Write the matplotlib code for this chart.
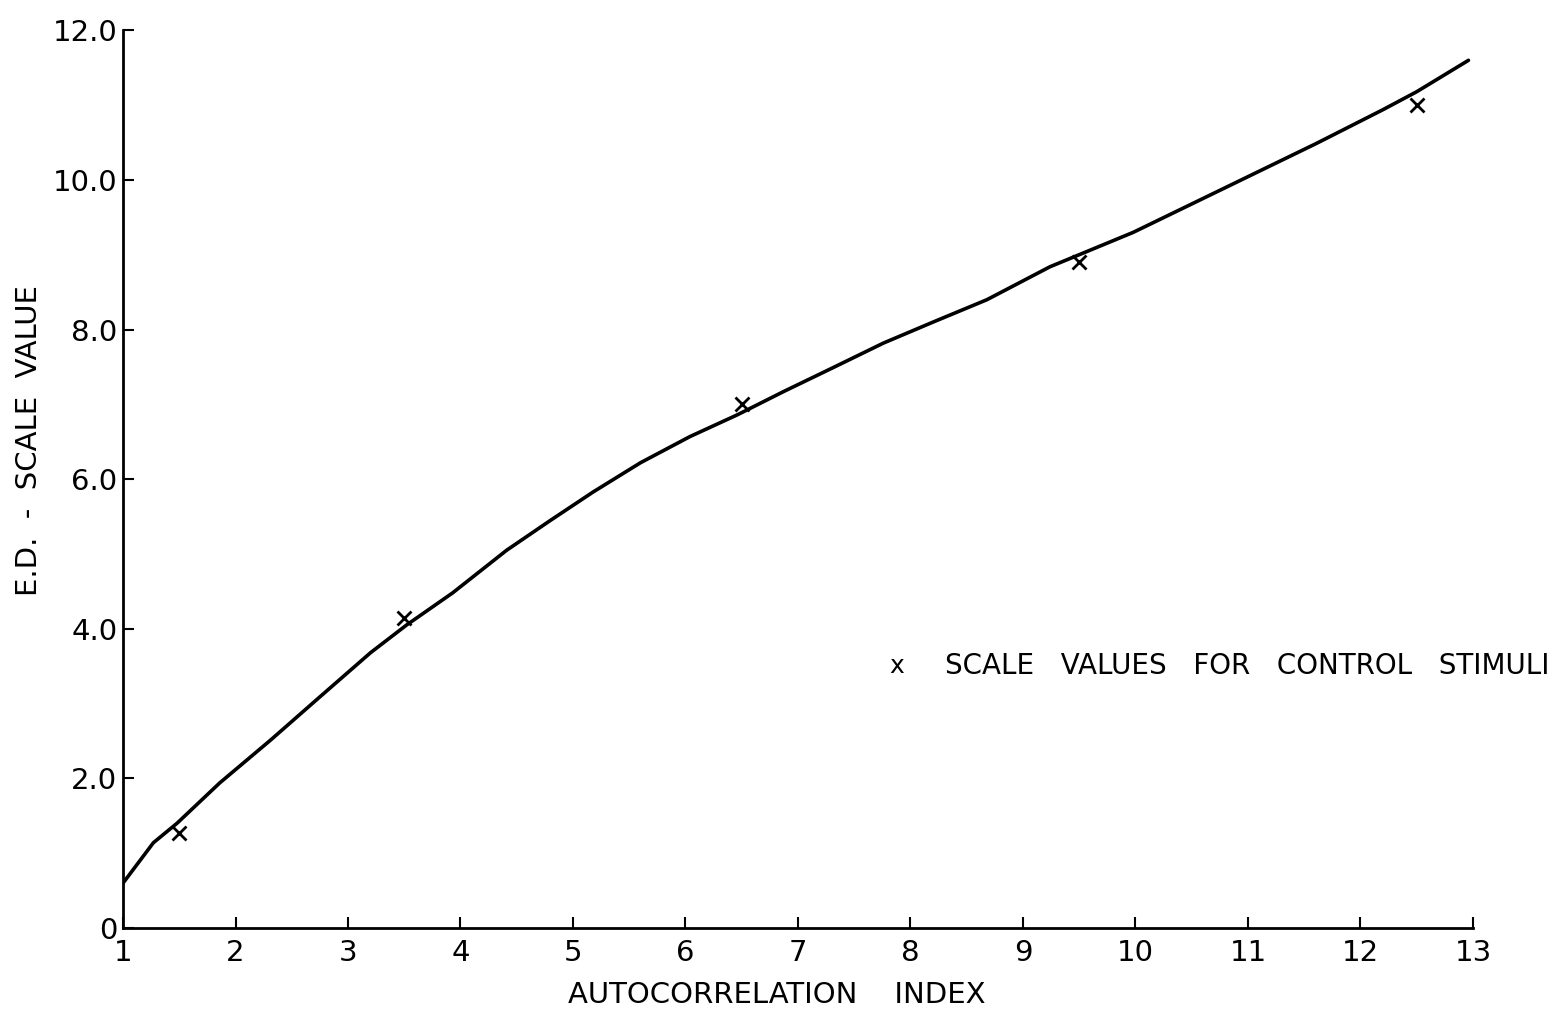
import matplotlib.pyplot as plt
import numpy as np

# curve
curve_x = [1.0, 1.27, 1.48, 1.86, 2.31, 2.75, 3.2, 3.52, 3.93, 4.41, 4.8, 5.18,
           5.6, 6.04, 6.46, 6.87, 7.31, 7.76, 8.2, 8.68, 9.24, 9.53, 9.98, 10.72,
           11.61, 12.2, 12.5, 12.96]
curve_y = [0.6, 1.14, 1.4, 1.94, 2.51, 3.09, 3.68, 4.05, 4.48, 5.05, 5.45, 5.83,
           6.22, 6.57, 6.86, 7.17, 7.49, 7.82, 8.1, 8.4, 8.84, 9.02, 9.3, 9.84,
           10.49, 10.94, 11.18, 11.6]

# control stimuli
ctrl_x = [1.5, 3.5, 6.5, 9.5, 12.5]
ctrl_y = [1.27, 4.14, 7.0, 8.9, 11.0]

xticks = list(range(1, 14))
yticks = [0, 2, 4, 6, 8, 10, 12]
ytick_labels = ["0", "2.0", "4.0", "6.0", "8.0", "10.0", "12.0"]

fig = plt.figure(figsize=(15.61, 10.13), dpi=100)
ax = fig.add_axes([0.0788, 0.0839, 0.8648, 0.8861])

ax.plot(curve_x, curve_y, color="black", lw=2.6, solid_capstyle="round",
        solid_joinstyle="round")
ax.plot(ctrl_x, ctrl_y, ls="none", marker="x", color="black", ms=10, mew=2)

ax.set_xlim(1, 13)
ax.set_ylim(0, 12)
ax.set_xticks(xticks)
ax.set_xticklabels([str(t) for t in xticks])
ax.set_yticks(yticks)
ax.set_yticklabels(ytick_labels)
ax.tick_params(direction="in", length=8, width=1.5, labelsize=21)
ax.tick_params(axis="x", pad=8)
ax.tick_params(axis="y", pad=4)

for s in ["top", "right"]:
    ax.spines[s].set_visible(False)
for s in ["left", "bottom"]:
    ax.spines[s].set_linewidth(2)

ax.set_xlabel("AUTOCORRELATION    INDEX", fontsize=21, va="center")
ax.xaxis.set_label_coords(0.484, -0.075)
ax.set_ylabel("E.D.  -  SCALE  VALUE", fontsize=21, va="center")
ax.yaxis.set_label_coords(-0.07, 0.543)

ax.text(7.88, 3.5, "x", fontsize=18, va="center", ha="center", clip_on=False)
ax.text(8.31, 3.5, "SCALE   VALUES   FOR   CONTROL   STIMULI", fontsize=20,
        va="center", ha="left", clip_on=False)

fig.savefig("out.png", dpi=100)
